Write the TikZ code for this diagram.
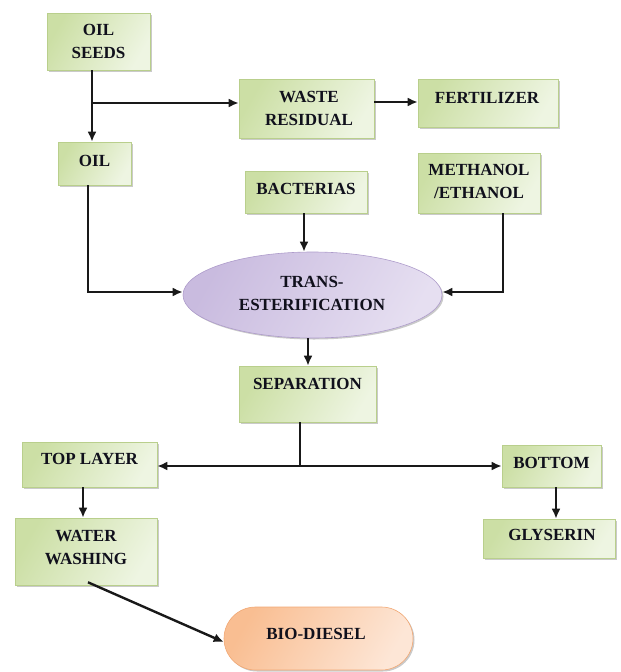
\documentclass[tikz,border=0pt]{standalone}
\usepackage{fontspec}
\setmainfont{Liberation Serif}
\usetikzlibrary{arrows.meta,shapes.geometric,shapes.misc,shadows}
\definecolor{gdark}{HTML}{CCDFA5}
\definecolor{glight}{HTML}{EEF5E2}
\definecolor{gborder}{HTML}{B9CF8C}
\definecolor{pdark}{HTML}{C9BBDF}
\definecolor{plight}{HTML}{E6DFF1}
\definecolor{pborder}{HTML}{AE9CCB}
\definecolor{odark}{HTML}{F9BE92}
\definecolor{olight}{HTML}{FDE6D6}
\definecolor{oborder}{HTML}{F2A874}
\definecolor{txtc}{HTML}{10101C}
\begin{document}
\begin{tikzpicture}[x=1pt,y=-1pt,
  shd/.style={drop shadow={shadow xshift=1.5pt,shadow yshift=-1.5pt,opacity=0.35,fill=black!60}},
  gbox/.style={rectangle,draw=gborder,line width=0.6pt,left color=gdark,right color=glight,shading angle=60,inner sep=0pt,shd},
  pell/.style={ellipse,draw=pborder,line width=0.6pt,left color=pdark,right color=plight,shading angle=60,inner sep=0pt,shd},
  obox/.style={rounded rectangle,draw=oborder,line width=0.6pt,left color=odark,right color=olight,shading angle=60,inner sep=0pt,shd},
  txt/.style={align=center,text=txtc,font=\bfseries\fontsize{17}{23}\selectfont,inner sep=0pt},
  arr/.style={line width=2.4pt,draw=black!90,-{Latex[length=10pt,width=9pt]}},
  ln/.style={line width=2.4pt,draw=black!90}]
\useasboundingbox (0,0) rectangle (621,672);

% boxes
\node[gbox,minimum width=103pt,minimum height=57pt] (seeds) at (98.5,41.5) {};
\node[txt] (seedsT) at (98.5,41.5) {OIL\\SEEDS};
\node[gbox,minimum width=135pt,minimum height=59pt] (waste) at (306.5,108.5) {};
\node[txt] (wasteT) at (309,108.5) {WASTE\\RESIDUAL};
\node[gbox,minimum width=140pt,minimum height=48pt] (fert) at (488,103) {};
\node[txt] (fertT) at (487,98) {FERTILIZER};
\node[gbox,minimum width=73pt,minimum height=43pt] (oil) at (94.5,163.5) {};
\node[txt] (oilT) at (94.5,161) {OIL};
\node[gbox,minimum width=122pt,minimum height=42pt] (bact) at (306,192) {};
\node[txt] (bactT) at (306,189) {BACTERIAS};
\node[gbox,minimum width=122pt,minimum height=60pt] (meth) at (479,183) {};
\node[txt] (methT) at (479,181.5) {METHANOL\\/ETHANOL};
\node[pell,minimum width=259pt,minimum height=86pt] (trans) at (312.5,295) {};
\node[txt] (transT) at (312,293.5) {TRANS-\\ESTERIFICATION};
\node[gbox,minimum width=137pt,minimum height=56pt] (sep) at (307.5,394) {};
\node[txt] (sepT) at (307.5,384) {SEPARATION};
\node[gbox,minimum width=135pt,minimum height=45pt] (top) at (89.5,464.5) {};
\node[txt] (topT) at (89.5,459) {TOP LAYER};
\node[gbox,minimum width=99pt,minimum height=42pt] (bottom) at (551.5,466) {};
\node[txt] (bottomT) at (551.5,463) {BOTTOM};
\node[gbox,minimum width=142pt,minimum height=67pt] (wash) at (86,551.5) {};
\node[txt] (washT) at (86,547.5) {WATER\\WASHING};
\node[gbox,minimum width=132pt,minimum height=39pt] (glys) at (549,538.5) {};
\node[txt] (glysT) at (552,535) {GLYSERIN};
\node[obox,minimum width=189pt,minimum height=63pt] (bio) at (318.5,638.5) {};
\node[txt] (bioT) at (316,634) {BIO-DIESEL};

% junctions
\coordinate (j1) at (92,103);
\coordinate (j2) at (374,102);
\coordinate (c1) at (88,292);
\coordinate (c3) at (503,292);
\coordinate (c4) at (300,466);

% connectors
\draw[arr] (seeds.south -| j1) -- (oil.north -| j1);
\draw[arr] (j1) -- (waste.west |- j1);
\draw[arr] (j2) -- (fert.west |- j2);
\draw[arr] (oil.south -| c1) -- (c1) -- (trans.west |- c1);
\draw[arr] ([xshift=-2pt]bact.south) -- ([xshift=-8.5pt]trans.north);
\draw[arr] (meth.south -| c3) -- (c3) -- (trans.east |- c3);
\draw[arr] ([xshift=-4.5pt]trans.south) -- ([xshift=0.5pt]sep.north);
\draw[ln] (sep.south -| c4) -- (c4);
\draw[arr] (c4) -- (top.east |- c4);
\draw[arr] (c4) -- (bottom.west |- c4);
\draw[arr] ([xshift=-6.5pt]top.south) -- ([xshift=-3pt]wash.north);
\draw[arr] ([xshift=4.5pt]bottom.south) -- ([xshift=7pt]glys.north);
\draw[arr] ([xshift=2pt,yshift=3pt]wash.south) -- ([yshift=-3.5pt]bio.west);
\end{tikzpicture}
\end{document}
